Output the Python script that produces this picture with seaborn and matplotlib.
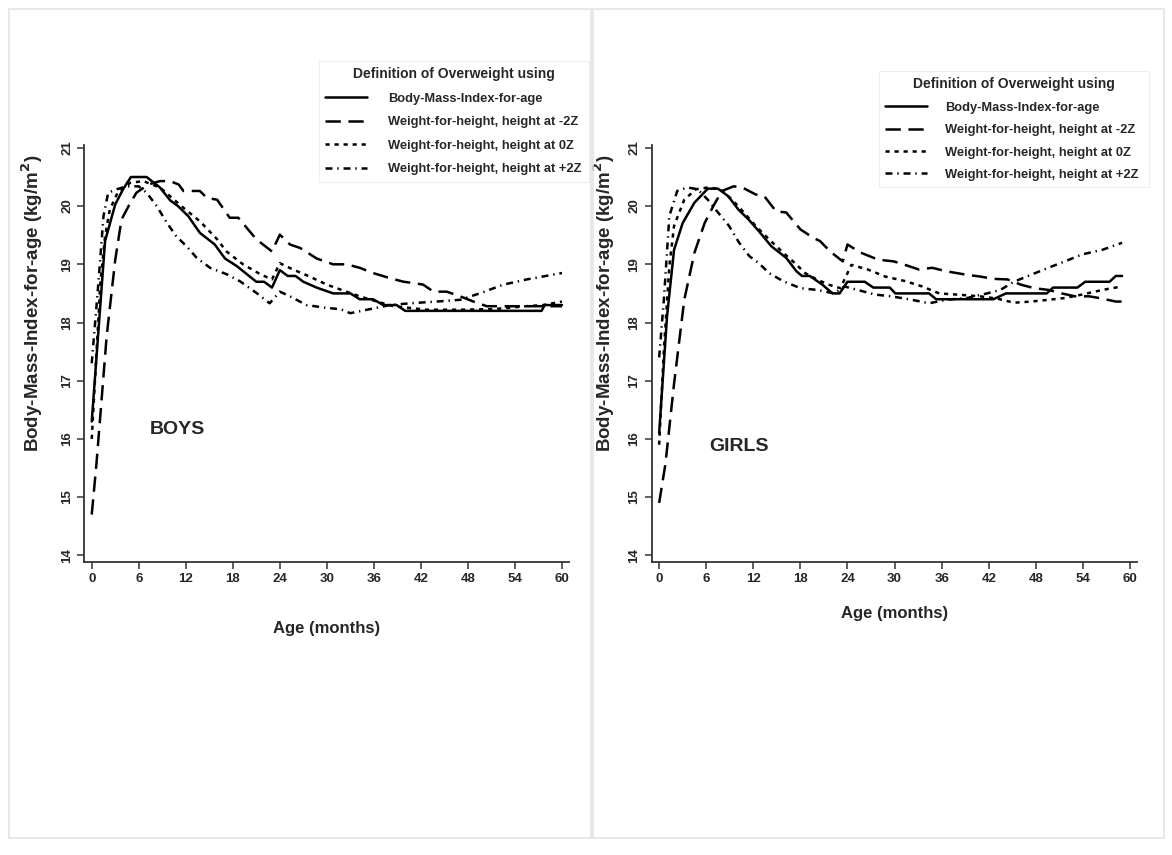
import matplotlib
matplotlib.use("Agg")
import matplotlib.pyplot as plt
from matplotlib.lines import Line2D
from matplotlib.patches import Rectangle
import pandas as pd
import seaborn as sns

# ---------------- data: BMI cut-off (kg/m^2) by age in months ----------------
definitions = [
    "Body-Mass-Index-for-age",
    "Weight-for-height, height at -2Z",
    "Weight-for-height, height at 0Z",
    "Weight-for-height, height at +2Z",
]

# Boys
boys_bmi_age = [0, 1.7, 3, 4, 5, 7, 8.7, 10, 11, 12.3, 13.8, 15.7, 17, 18.5, 21, 22, 23, 24, 25, 26,
                27, 28.7, 30.8, 33, 34.2, 35.9, 37.2, 38.9, 40, 57.4, 57.8, 60]
boys_bmi_val = [16.3, 19.4, 20.03, 20.29, 20.5, 20.5, 20.32, 20.1, 20.0, 19.83, 19.54, 19.34, 19.1,
                18.97, 18.7, 18.7, 18.6, 18.9, 18.8, 18.8, 18.7, 18.6, 18.5, 18.5, 18.4, 18.4, 18.3,
                18.3, 18.2, 18.2, 18.3, 18.3]

boys_m2_age = [0, 0.6, 1.9, 3, 3.8, 4.7, 5.7, 7.2, 8.7, 10, 11.1, 11.7, 13.8, 14.7, 16, 17.6, 18.7, 21,
               23, 24, 25.3, 26.6, 28.7, 30.8, 32.5, 34.2, 35.9, 38.1, 39.8, 41, 42.3, 43.6, 45.3,
               47, 48.7, 50.4, 60]
boys_m2_val = [14.7, 15.57, 17.76, 19.08, 19.77, 20.0, 20.23, 20.37, 20.43, 20.43, 20.37, 20.26, 20.26,
               20.14, 20.11, 19.8, 19.8, 19.43, 19.22, 19.51, 19.34, 19.28, 19.1, 19.0, 19.0, 18.94,
               18.85, 18.76, 18.7, 18.68, 18.65, 18.53, 18.53, 18.45, 18.36, 18.28, 18.28]

boys_0_age = [0, 1.1, 1.7, 2.3, 3.4, 4.9, 6.6, 7.7, 8.7, 10, 11.7, 13.8, 16, 17.2, 19.3, 21.5, 23, 24,
              25.7, 27.8, 30, 32.5, 34.2, 36.4, 38.5, 40.6, 42.7, 47, 51.2, 55.5, 57.6, 60]
boys_0_val = [16.0, 18.68, 19.48, 19.94, 20.26, 20.4, 20.43, 20.37, 20.32, 20.17, 19.97, 19.74, 19.43,
              19.22, 19.0, 18.83, 18.74, 19.02, 18.91, 18.79, 18.65, 18.53, 18.45, 18.36, 18.28, 18.25,
              18.22, 18.22, 18.23, 18.28, 18.3, 18.36]

boys_p2_age = [0, 0.85, 1.5, 2.1, 3.2, 4.5, 6, 7, 8.3, 9.6, 10.8, 12.1, 13.4, 15.1, 17.2, 18.9, 21,
               22.7, 24, 25.3, 27.4, 30, 31.7, 33, 35.5, 38.1, 40.6, 44, 47, 49.5, 52.5, 55.5, 60]
boys_p2_val = [17.3, 18.68, 19.83, 20.23, 20.29, 20.34, 20.34, 20.23, 20.0, 19.71, 19.48, 19.31, 19.11,
               18.94, 18.83, 18.71, 18.51, 18.33, 18.53, 18.45, 18.3, 18.25, 18.23, 18.16, 18.23, 18.3,
               18.33, 18.36, 18.39, 18.5, 18.65, 18.74, 18.85]

# Girls
girls_bmi_age = [0, 1, 1.9, 3, 4.5, 6.2, 7.5, 8.8, 10.1, 11.4, 12.7, 14.3, 16.2, 17.5, 18.2, 19.2, 20.8,
                 22.1, 23, 24, 26.2, 27.3, 29.4, 30.1, 34.4, 35.3, 42.6, 44.2, 49.4, 50.2, 53.3, 54.3,
                 57.4, 58.2, 59]
girls_bmi_val = [16.1, 18.1, 19.25, 19.71, 20.06, 20.3, 20.3, 20.17, 19.94, 19.77, 19.57, 19.31, 19.11,
                 18.88, 18.8, 18.8, 18.65, 18.5, 18.5, 18.7, 18.7, 18.6, 18.6, 18.5, 18.5, 18.4, 18.4,
                 18.5, 18.5, 18.6, 18.6, 18.7, 18.7, 18.8, 18.8]

girls_m2_age = [0, 0.8, 1.9, 3.2, 4.5, 5.8, 6.9, 8, 9.5, 10.6, 12.3, 13.4, 14.9, 16.2, 18, 19.7, 20.5,
                21.8, 23.4, 24, 25.7, 27.9, 29.9, 31.8, 33.1, 34.8, 36.6, 39.2, 40.9, 42.6, 44.4, 45.2,
                46.1, 47.8, 49.6, 51.3, 53, 54.8, 56.1, 58.2, 59]
girls_m2_val = [14.9, 15.57, 16.95, 18.39, 19.2, 19.71, 20.0, 20.26, 20.34, 20.32, 20.2, 20.17, 19.91,
                19.89, 19.6, 19.45, 19.4, 19.22, 19.05, 19.34, 19.2, 19.08, 19.05, 18.97, 18.91, 18.94,
                18.88, 18.82, 18.79, 18.75, 18.74, 18.7, 18.65, 18.59, 18.56, 18.5, 18.45, 18.45, 18.42,
                18.36, 18.36]

girls_0_age = [0, 0.6, 1.3, 1.9, 3.2, 4.7, 6.2, 7.8, 9.3, 10.8, 12.3, 14, 15.8, 17.3, 18.6, 20.1, 21.6,
               23.1, 24.5, 26.6, 28.8, 31.4, 33.5, 35.7, 37.9, 40.9, 43.1, 45.2, 47.4, 49.6, 51.7, 53.9,
               56.5, 59]
girls_0_val = [15.9, 17.53, 18.97, 19.66, 20.11, 20.29, 20.32, 20.29, 20.11, 19.89, 19.66, 19.43, 19.2,
               19.02, 18.85, 18.74, 18.65, 18.59, 18.99, 18.91, 18.79, 18.71, 18.62, 18.5, 18.48, 18.45,
               18.41, 18.34, 18.36, 18.39, 18.42, 18.48, 18.56, 18.62]

girls_p2_age = [0, 0.6, 1.3, 2.3, 3.6, 4.9, 6.2, 7.5, 8.9, 10.2, 11.5, 12.7, 14, 15.8, 18, 20.1, 22.3,
                23.6, 25.3, 27.5, 29.6, 32.2, 34.4, 36.6, 39.2, 41.8, 43.5, 45.2, 47.4, 49.6, 51.7, 53.9,
                56.5, 59]
girls_p2_val = [17.4, 18.39, 19.83, 20.26, 20.32, 20.29, 20.11, 19.89, 19.66, 19.37, 19.14, 19.02, 18.85,
                18.71, 18.59, 18.56, 18.5, 18.62, 18.56, 18.48, 18.45, 18.39, 18.33, 18.39, 18.42, 18.5,
                18.56, 18.7, 18.82, 18.94, 19.05, 19.17, 19.25, 19.37]

x_ticks = list(range(0, 61, 6))
y_ticks = list(range(14, 22))

# ---------------- styling ----------------
sns.set_theme(style="ticks")
plt.rcParams["font.family"] = ["Liberation Sans", "DejaVu Sans"]
plt.rcParams["font.weight"] = "bold"
plt.rcParams["lines.scale_dashes"] = False

dash_styles = {
    definitions[0]: "",
    definitions[1]: (11, 5.5),
    definitions[2]: (3, 3.5),
    definitions[3]: (5, 3.5, 1, 3.5),
}
LW = 1.8


def long_frame(series):
    rows = []
    for name, (ages, vals) in zip(definitions, series):
        for a, v in zip(ages, vals):
            rows.append({"Age": a, "BMI": v, "Definition": name})
    return pd.DataFrame(rows)


boys = long_frame([(boys_bmi_age, boys_bmi_val), (boys_m2_age, boys_m2_val),
                   (boys_0_age, boys_0_val), (boys_p2_age, boys_p2_val)])
girls = long_frame([(girls_bmi_age, girls_bmi_val), (girls_m2_age, girls_m2_val),
                    (girls_0_age, girls_0_val), (girls_p2_age, girls_p2_val)])

W, H = 1172, 855
fig = plt.figure(figsize=(W / 100, H / 100), dpi=100)
fig.patch.set_facecolor("white")

# light panel frames
frame_col = "#dfe5ea"
fig.patches.append(Rectangle((9 / W, 1 - 838 / H), (591 - 9) / W, (838 - 9) / H,
                             transform=fig.transFigure, fill=False, ec=frame_col, lw=1.2))
fig.patches.append(Rectangle((593 / W, 1 - 838 / H), (1164 - 593) / W, (838 - 9) / H,
                             transform=fig.transFigure, fill=False, ec=frame_col, lw=1.2))


def px_axes(left, right, bottom, top):
    return fig.add_axes([left / W, 1 - bottom / H, (right - left) / W, (bottom - top) / H])


panels = [
    dict(df=boys, rect=(84.3, 569, 561.7, 145), label="BOYS", lab_xy=(7.4, 16.17),
         ylab_x=-0.082, xlab_y=-0.143,
         leg=dict(x=319, y=61, w=270, tpad=1.6, ls=0.88)),
    dict(df=girls, rect=(651.7, 1137, 561.7, 145), label="GIRLS", lab_xy=(6.4, 15.87),
         ylab_x=-0.072, xlab_y=-0.106,
         leg=dict(x=879, y=71, w=270, tpad=1.35, ls=0.8)),
]

for p in panels:
    ax = px_axes(*p["rect"])
    sns.lineplot(data=p["df"], x="Age", y="BMI", style="Definition", style_order=definitions,
                 dashes=dash_styles, color="black", lw=LW, sort=False, estimator=None,
                 legend=False, ax=ax)
    ax.set_xlim(-0.95, 60.9)
    ax.set_ylim(13.89, 21.05)
    ax.set_xticks(x_ticks)
    ax.set_yticks(y_ticks)
    ax.set_xticklabels([str(t) for t in x_ticks], fontsize=9.5, fontweight="bold")
    ax.set_yticklabels([str(t) for t in y_ticks], fontsize=9.5, fontweight="bold",
                       rotation=90, va="center")
    ax.tick_params(axis="both", direction="out", length=5, width=1.1, color="#333333", pad=3)
    sns.despine(ax=ax)
    for s in ("left", "bottom"):
        ax.spines[s].set_linewidth(1.3)
        ax.spines[s].set_color("#333333")
    ax.set_facecolor("white")
    ax.set_xlabel("Age (months)", fontsize=12, fontweight="bold")
    ax.xaxis.set_label_coords(0.5, p["xlab_y"])
    ax.set_ylabel("Body-Mass-Index-for-age (kg/m$^{\\mathbf{2}}$)", fontsize=13.5, fontweight="bold")
    ax.yaxis.set_label_coords(p["ylab_x"], 0.62)
    ax.text(*p["lab_xy"], p["label"], fontsize=14, fontweight="bold", ha="left", va="center")

    handles = [Line2D([], [], color="black", lw=LW, dashes=dash_styles[d]) if dash_styles[d]
               else Line2D([], [], color="black", lw=LW) for d in definitions]
    lg = p["leg"]
    leg = fig.legend(handles, definitions, loc="upper left",
                     bbox_to_anchor=(lg["x"] / W, 1 - lg["y"] / H, lg["w"] / W, 0),
                     mode="expand", borderaxespad=0, title="Definition of Overweight using",
                     prop=dict(size=9.3, weight="bold"), title_fontproperties=dict(size=10, weight="bold"),
                     handlelength=3.25, handletextpad=lg["tpad"], labelspacing=lg["ls"], borderpad=0.5,
                     frameon=True, fancybox=False, edgecolor="#eeeeee", facecolor="white", framealpha=1)
    leg.get_frame().set_linewidth(0.8)

fig.savefig("out.png", dpi=100)
